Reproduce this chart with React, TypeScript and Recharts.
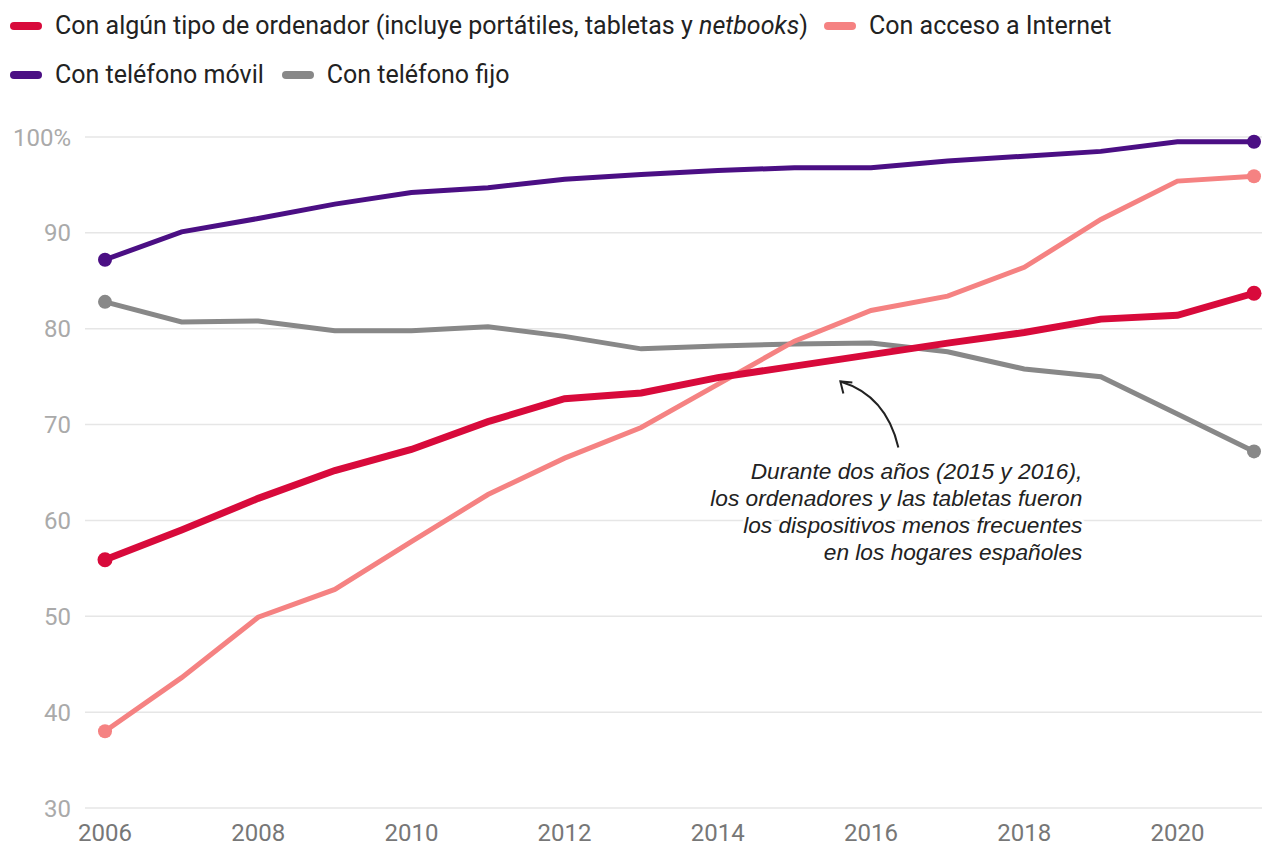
import React from "react";
import {
  LineChart,
  Line,
  XAxis,
  YAxis,
  CartesianGrid,
  ReferenceDot,
} from "recharts";

const years = [2006, 2007, 2008, 2009, 2010, 2011, 2012, 2013, 2014, 2015, 2016, 2017, 2018, 2019, 2020, 2021];
const computer = [55.9, 59.0, 62.3, 65.2, 67.4, 70.3, 72.7, 73.3, 74.9, 76.1, 77.3, 78.5, 79.6, 81.0, 81.4, 83.7];
const internet = [38.0, 43.6, 49.9, 52.8, 57.8, 62.7, 66.5, 69.7, 74.2, 78.7, 81.9, 83.4, 86.4, 91.4, 95.4, 95.9];
const mobile = [87.2, 90.1, 91.5, 93.0, 94.2, 94.7, 95.6, 96.1, 96.5, 96.8, 96.8, 97.5, 98.0, 98.5, 99.5, 99.5];
const landline = [82.8, 80.7, 80.8, 79.8, 79.8, 80.2, 79.2, 77.9, 78.2, 78.4, 78.5, 77.6, 75.8, 75.0, 71.1, 67.2];

const xTicks = [2006, 2008, 2010, 2012, 2014, 2016, 2018, 2020];
const yTicks = [30, 40, 50, 60, 70, 80, 90, 100];

const noteLines = [
  "Durante dos años (2015 y 2016),",
  "los ordenadores y las tabletas fueron",
  "los dispositivos menos frecuentes",
  "en los hogares españoles",
];
// where the arrow points to
const noteTarget = { year: 2015.6, value: 74.5 };

const COLORS = {
  computer: "#d80a3b",
  internet: "#f58282",
  mobile: "#4b0f84",
  landline: "#888888",
};

const data = years.map((year, i) => ({
  year,
  computer: computer[i],
  internet: internet[i],
  mobile: mobile[i],
  landline: landline[i],
}));

const FONT = "Roboto, 'Noto Sans', sans-serif";
const NOTE_FONT = "'Liberation Sans', Arial, sans-serif";

function endDots(color: string, r: number) {
  return (props: any) => {
    const { cx, cy, index } = props;
    if (index !== 0 && index !== data.length - 1) return <g key={`d-${index}`} />;
    return <circle key={`d-${index}`} cx={cx} cy={cy} r={r} fill={color} />;
  };
}

function Swatch({ color }: { color: string }) {
  return (
    <span
      style={{
        display: "inline-block",
        width: 32,
        height: 8,
        borderRadius: 4,
        background: color,
        marginRight: 13,
      }}
    />
  );
}

function Note(props: any) {
  const { cx, cy } = props;
  if (cx == null || cy == null) return null;
  const right = cx + 242;
  const top = cy + 92;
  return (
    <g>
      <path
        d={`M ${cx + 58} ${cy + 66} Q ${cx + 46} ${cy + 14} ${cx} ${cy}`}
        fill="none"
        stroke="#222"
        strokeWidth={2}
      />
      <path
        d={`M ${cx + 12} ${cy + 1} L ${cx} ${cy} L ${cx + 3} ${cy + 12}`}
        fill="none"
        stroke="#222"
        strokeWidth={2}
      />
      {noteLines.map((t, i) => (
        <text
          key={i}
          x={right}
          y={top + i * 26.8}
          textAnchor="end"
          dominantBaseline="middle"
          fontFamily={NOTE_FONT}
          fontStyle="italic"
          fontSize={22.7}
          fill="#222"
          stroke="#fff"
          strokeWidth={6}
          paintOrder="stroke"
        >
          {t}
        </text>
      ))}
    </g>
  );
}

export default function App() {
  return (
    <div
      style={{
        position: "absolute",
        left: 0,
        top: 0,
        width: 1264,
        height: 849,
        background: "#fff",
        fontFamily: FONT,
        color: "#222",
      }}
    >
      <div style={{ position: "absolute", left: 10, top: 11, fontSize: 25, display: "flex", alignItems: "center", whiteSpace: "nowrap" }}>
        <Swatch color={COLORS.computer} />
        <span>
          Con algún tipo de ordenador (incluye portátiles, tabletas y <i>netbooks</i>)
        </span>
        <span style={{ width: 16 }} />
        <Swatch color={COLORS.internet} />
        <span>Con acceso a Internet</span>
      </div>
      <div style={{ position: "absolute", left: 10, top: 60, fontSize: 25, display: "flex", alignItems: "center", whiteSpace: "nowrap" }}>
        <Swatch color={COLORS.mobile} />
        <span>Con teléfono móvil</span>
        <span style={{ width: 18 }} />
        <Swatch color={COLORS.landline} />
        <span>Con teléfono fijo</span>
      </div>

      <LineChart
        width={1264}
        height={849}
        data={data}
        margin={{ top: 137, right: 2, bottom: 11, left: 10 }}
      >
        <CartesianGrid vertical={false} stroke="#e6e6e6" strokeWidth={1.5} />
        <XAxis
          dataKey="year"
          type="number"
          domain={[2006, 2021]}
          ticks={xTicks}
          padding={{ left: 20, right: 8 }}
          axisLine={false}
          tickLine={false}
          tickSize={0}
          tickMargin={16}
          height={30}
          tick={{ fill: "#777", fontSize: 24, fontFamily: FONT }}
        />
        <YAxis
          type="number"
          domain={[30, 100]}
          ticks={yTicks}
          axisLine={false}
          tickLine={false}
          tickSize={0}
          tickMargin={14}
          width={75}
          tickFormatter={(v: number) => (v === 100 ? "100%" : String(v))}
          tick={{ fill: "#aaa", fontSize: 24, fontFamily: FONT }}
        />
        <Line
          dataKey="landline"
          stroke={COLORS.landline}
          strokeWidth={5}
          dot={endDots(COLORS.landline, 7)}
          activeDot={false}
          isAnimationActive={false}
        />
        <Line
          dataKey="mobile"
          stroke={COLORS.mobile}
          strokeWidth={5}
          dot={endDots(COLORS.mobile, 7)}
          activeDot={false}
          isAnimationActive={false}
        />
        <Line
          dataKey="internet"
          stroke={COLORS.internet}
          strokeWidth={5}
          dot={endDots(COLORS.internet, 7)}
          activeDot={false}
          isAnimationActive={false}
        />
        <Line
          dataKey="computer"
          stroke={COLORS.computer}
          strokeWidth={7}
          dot={endDots(COLORS.computer, 7.5)}
          activeDot={false}
          isAnimationActive={false}
        />
        <ReferenceDot
          x={noteTarget.year}
          y={noteTarget.value}
          r={0}
          shape={Note}
          ifOverflow="visible"
        />
      </LineChart>
    </div>
  );
}
